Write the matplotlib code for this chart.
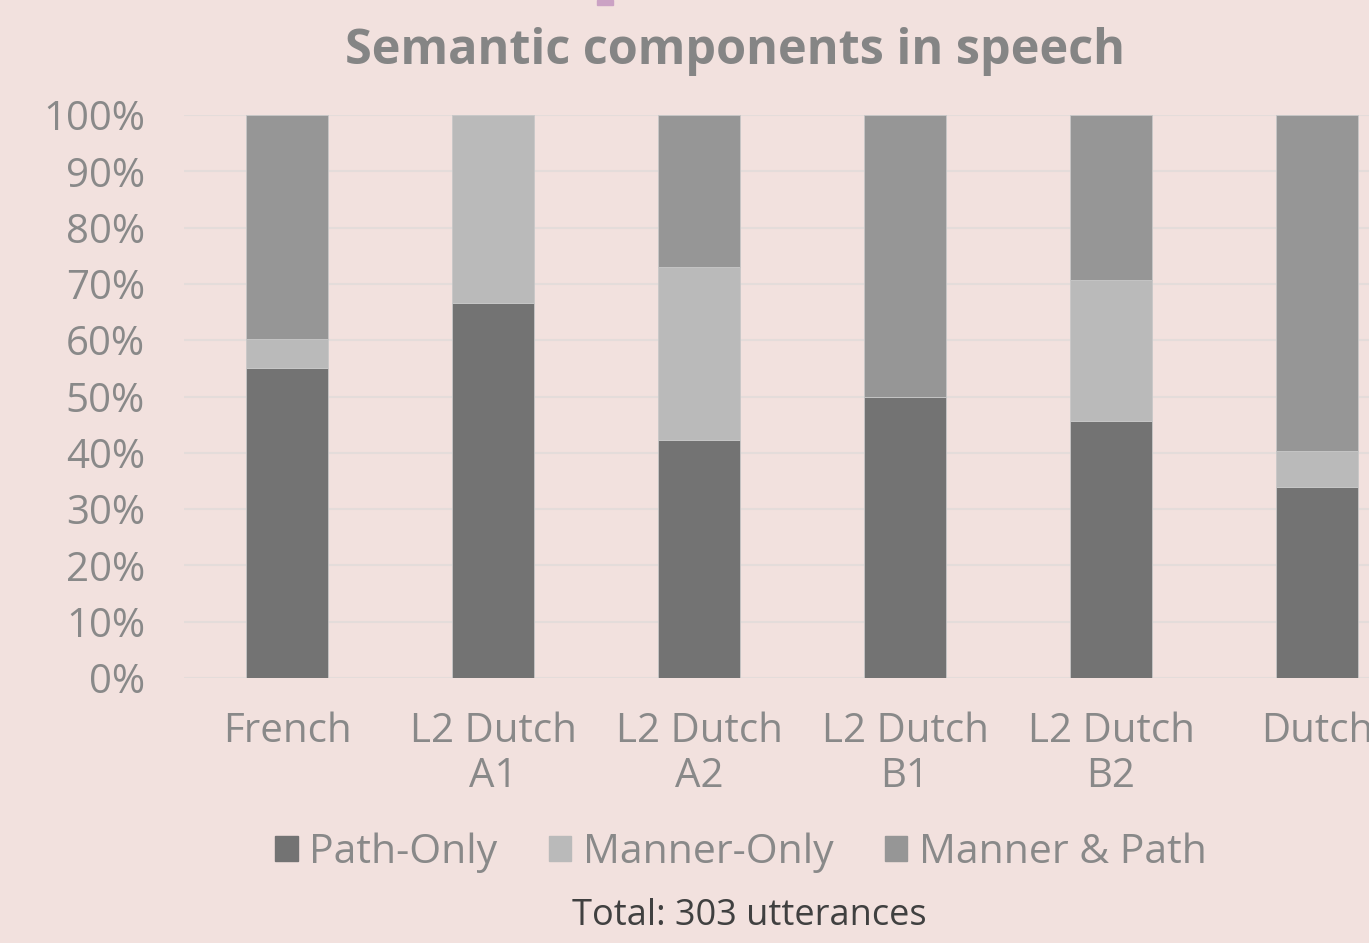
import matplotlib
matplotlib.use("Agg")
import matplotlib.pyplot as plt
from matplotlib.ticker import PercentFormatter
from matplotlib.patches import Patch

categories = ["French", "L2 Dutch\nA1", "L2 Dutch\nA2", "L2 Dutch\nB1", "L2 Dutch\nB2", "Dutch"]
path_only = [55.1, 66.6, 42.3, 50.0, 45.6, 33.9]
manner_only = [5.1, 33.4, 30.7, 0.0, 25.1, 6.4]
manner_path = [39.8, 0.0, 27.0, 50.0, 29.3, 59.7]
series_names = ["Path-Only", "Manner-Only", "Manner & Path"]

BG = "#F2E1DE"
TXT = "#898989"
colors = ["#737373", "#BABABA", "#969696"]

plt.rcParams["font.family"] = ["Open Sans", "DejaVu Sans"]

fig = plt.figure(figsize=(13.69, 9.43), dpi=100, facecolor=BG)
# axes run past the right edge, so the last category is cut off as in the source
ax = fig.add_axes([184 / 1369, 1 - 678 / 943, 1236 / 1369, 563 / 943])
ax.set_facecolor(BG)

x = list(range(len(categories)))
bottom2 = [a + b for a, b in zip(path_only, manner_only)]
for vals, bot, col in [(path_only, None, colors[0]),
                       (manner_only, path_only, colors[1]),
                       (manner_path, bottom2, colors[2])]:
    ax.bar(x, vals, bottom=bot, width=0.4, color=col, edgecolor="#C8C8C8",
           linewidth=0.6, zorder=3)

ax.set_xlim(-0.5, len(categories) - 0.5)
ax.set_ylim(0, 100)
ax.set_yticks(range(0, 101, 10))
ax.yaxis.set_major_formatter(PercentFormatter(decimals=0))
ax.grid(axis="y", color="#E4DCDA", linewidth=1.5, zorder=0)
ax.set_axisbelow(True)
for s in ax.spines.values():
    s.set_visible(False)
ax.tick_params(axis="y", length=0, labelsize=29, labelcolor=TXT, pad=28)
ax.tick_params(axis="x", length=0, labelsize=29, labelcolor=TXT, pad=24)
ax.set_xticks(x)
ax.set_xticklabels(categories, linespacing=1.15)

fig.text(0.537, 1 - 51 / 943, "Semantic components in speech", ha="center", va="center",
         fontsize=35, fontweight="bold", color="#858585")

# small pink marker at top edge
fig.patches.append(matplotlib.patches.Rectangle((597 / 1369, 1 - 5 / 943), 16 / 1369, 5 / 943,
                                                transform=fig.transFigure, color="#CBA2C4"))

handles = [Patch(color=c) for c in colors]
fig.legend(handles, series_names, loc="center", bbox_to_anchor=(741 / 1369, 1 - 853 / 943),
           ncol=3, frameon=False, fontsize=29.5, labelcolor=TXT, handlelength=0.55,
           handleheight=0.55, handletextpad=0.28, columnspacing=1.25)

fig.text(749 / 1369, 1 - 916 / 943, "Total: 303 utterances", ha="center", va="center",
         fontsize=26, color="#404040")

fig.savefig("out.png", dpi=100, facecolor=BG)
